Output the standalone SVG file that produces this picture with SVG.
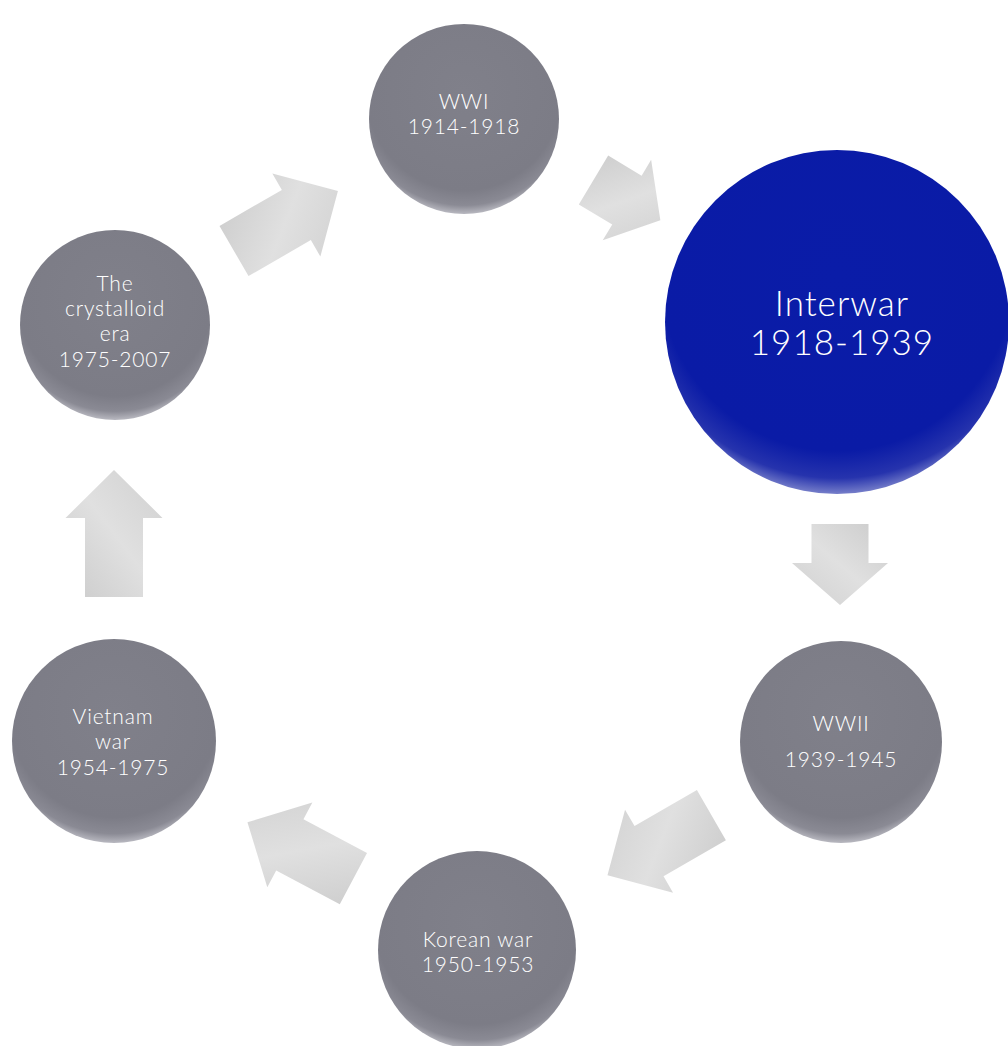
<svg xmlns="http://www.w3.org/2000/svg" width="1008" height="1046" viewBox="0 0 1008 1046">
  <defs>
    <!-- flat sphere fill with a soft light rim along the lower edge -->
    <radialGradient id="gGray" cx="0.5" cy="0.36" r="0.66">
      <stop offset="0" stop-color="#80808a"/>
      <stop offset="0.78" stop-color="#7c7c86"/>
      <stop offset="0.9" stop-color="#8a8a94"/>
      <stop offset="1" stop-color="#cdcdd4"/>
    </radialGradient>
    <radialGradient id="gBlue" cx="0.5" cy="0.36" r="0.66">
      <stop offset="0" stop-color="#0a1ca8"/>
      <stop offset="0.78" stop-color="#0a1ba6"/>
      <stop offset="0.9" stop-color="#2633ad"/>
      <stop offset="1" stop-color="#9aa0d6"/>
    </radialGradient>
    <linearGradient id="gArrow" x1="0" y1="0" x2="1" y2="1">
      <stop offset="0" stop-color="#cbcbcb"/>
      <stop offset="0.5" stop-color="#e0e0e0"/>
      <stop offset="1" stop-color="#d0d0d0"/>
    </linearGradient>
    <!-- block arrow, tail at origin, pointing along +x -->
    <path id="arrowLong" d="M0,-29 H72 V-48 L120,0 L72,48 V29 H0 Z"/>
  </defs>
  <style>
    .node { fill: url(#gGray); }
    .node.active { fill: url(#gBlue); }
    .arrow { fill: url(#gArrow); }
    text { font-family: Lato, "Open Sans", "DejaVu Sans", sans-serif; font-weight: 300; fill: #ffffff; text-anchor: middle; font-size: 21px; letter-spacing: 0.8px; }
    .big { font-size: 35px; letter-spacing: 1px; }
  </style>

  <g id="connectors">
    <use href="#arrowLong" class="arrow" transform="translate(234,251) rotate(-30)"/>
    <path class="arrow" transform="translate(593.5,180) rotate(31)" d="M0,-28.5 H39 V-47 L78,0 L39,47 V28.5 H0 Z"/>
    <path class="arrow" transform="translate(840,524) rotate(90)" d="M0,-28.5 H39 V-48 L81,0 L39,48 V28.5 H0 Z"/>
    <use href="#arrowLong" class="arrow" transform="translate(711.4,815.2) rotate(150)"/>
    <use href="#arrowLong" class="arrow" transform="translate(353.4,878.6) rotate(-152)"/>
    <path class="arrow" transform="translate(114,597) rotate(-90)" d="M0,-29 H79 V-48.5 L127,0 L79,48.5 V29 H0 Z"/>
  </g>

  <g id="node-wwi">
    <circle class="node" cx="464" cy="119" r="95"/>
    <text x="464" y="109">WWI</text>
    <text x="464" y="134">1914-1918</text>
  </g>

  <g id="node-interwar">
    <circle class="node active" cx="837" cy="322" r="172"/>
    <text class="big" x="842" y="316">Interwar</text>
    <text class="big" x="842" y="355">1918-1939</text>
  </g>

  <g id="node-wwii">
    <circle class="node" cx="841" cy="742" r="101"/>
    <text x="841" y="731">WWII</text>
    <text x="841" y="767">1939-1945</text>
  </g>

  <g id="node-korean">
    <circle class="node" cx="477" cy="950" r="99"/>
    <text x="478" y="947">Korean war</text>
    <text x="478" y="972">1950-1953</text>
  </g>

  <g id="node-vietnam">
    <circle class="node" cx="114" cy="741" r="102"/>
    <text x="113" y="724">Vietnam</text>
    <text x="113" y="749">war</text>
    <text x="113" y="775">1954-1975</text>
  </g>

  <g id="node-crystalloid">
    <circle class="node" cx="115" cy="325" r="95"/>
    <text x="115" y="291">The</text>
    <text x="115" y="316">crystalloid</text>
    <text x="115" y="341">era</text>
    <text x="115" y="367">1975-2007</text>
  </g>
</svg>
